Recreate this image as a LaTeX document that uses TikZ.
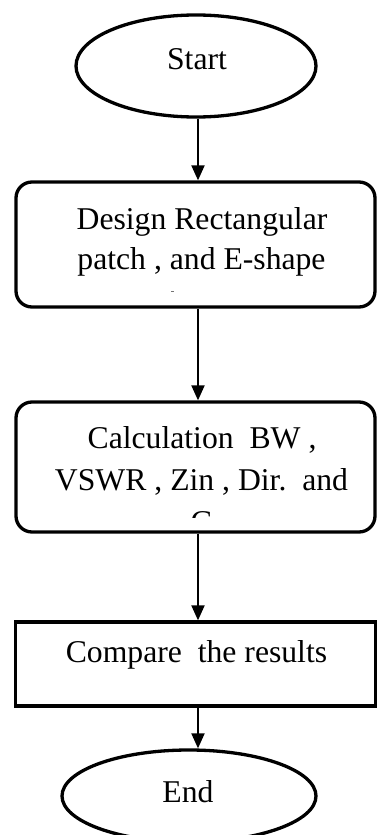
\documentclass[tikz,border=0pt]{standalone}
\usepackage{fontspec}
\setmainfont{Liberation Serif}
\usetikzlibrary{shapes.geometric,arrows.meta}
\begin{document}
\begin{tikzpicture}[x=1bp,y=-1bp,
  txt/.style={font=\fontsize{31.8}{40}\selectfont, inner sep=0pt, anchor=base},
  oval/.style={ellipse, draw, line width=3.3bp, inner sep=0pt},
  rbox/.style={draw, rounded corners=16bp, line width=3.3bp, inner sep=0pt},
  sbox/.style={draw, line width=3.3bp, inner sep=0pt},
  arr/.style={line width=2bp, -{Triangle[length=15bp,width=13bp]}}]
\useasboundingbox (0,0) rectangle (377,835);
\clip (0,0) rectangle (377,835);
% shapes
\node[oval, minimum width=240bp, minimum height=102bp] (start) at (196,66) {};
\node[rbox, minimum width=359bp, minimum height=125bp] (box1) at (195.5,244.5) {};
\node[rbox, minimum width=359bp, minimum height=130bp] (box2) at (195.5,467) {};
\node[sbox, minimum width=360bp, minimum height=84bp] (box3) at (195.5,664) {};
\node[oval, minimum width=254bp, minimum height=92bp] (end) at (189,796) {};
% texts
\node[txt] (tstart) at (197,69) {Start};
\node[txt] (t1a) at (202,229) {Design Rectangular};
\node[txt] (t1b) at (201.5,269) {patch , and E-shape};
\fill[black!55] (171,290.5) rectangle (174,291.7);
\node[txt] (t2a) at (202,448) {Calculation\ \ BW ,};
\node[txt] (t2b) at (201.5,490) {VSWR , Zin , Dir.\ \ and};
\begin{scope}
  \clip (16,400) rectangle (375,517);
  \node[txt] (t2c) at (202,532) {G};
\end{scope}
\node[txt] (t3) at (196.5,662) {Compare\ \ the results};
\node[txt] (tend) at (188,802) {End};
% connectors
\coordinate (ax) at (198,0);
\draw[arr] (start.south -| ax) -- (box1.north -| ax);
\draw[arr] (box1.south -| ax) -- (box2.north -| ax);
\draw[arr] (box2.south -| ax) -- (box3.north -| ax);
\draw[arr] (box3.south -| ax) -- (end.north -| ax);
\end{tikzpicture}
\end{document}
